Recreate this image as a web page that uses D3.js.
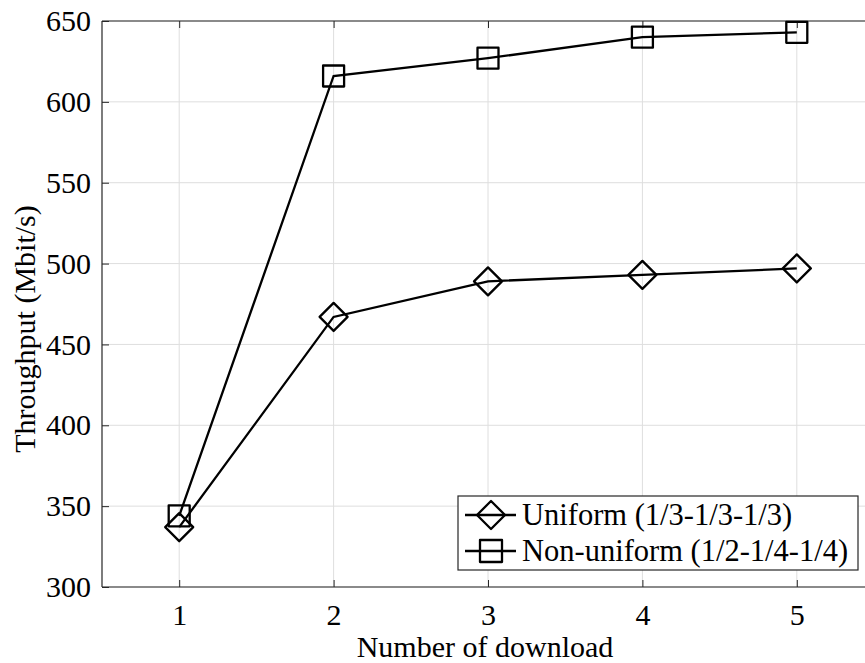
<!DOCTYPE html>
<html><head><meta charset="utf-8">
<script src="https://cdn.jsdelivr.net/npm/d3@7"></script>
<style>body{margin:0;background:#fff;overflow:hidden}svg{display:block}text{font-family:"Liberation Serif","Times New Roman",serif;fill:#000}</style>
</head><body>
<svg id="c" width="865" height="663"></svg>
<script>
const downloads = [1, 2, 3, 4, 5];
const uniform = [337, 467, 489, 493, 497];
const nonUniform = [344, 616, 627, 640, 643];
const xTicks = [1, 2, 3, 4, 5];
const yTicks = [300, 350, 400, 450, 500, 550, 600, 650];
const seriesNames = ["Uniform (1/3-1/3-1/3)", "Non-uniform (1/2-1/4-1/4)"];

const FS = 30;
const svg = d3.select("#c");
const L = 102, R = 874, T = 21, B = 587;
const x = d3.scaleLinear().domain([0.5, 5.5]).range([L, R]);
const y = d3.scaleLinear().domain([300, 650]).range([B, T]);

// grid
svg.append("g").selectAll("line").data(xTicks).join("line")
  .attr("x1", d => x(d)).attr("x2", d => x(d)).attr("y1", T).attr("y2", B)
  .attr("stroke", "#dedede").attr("stroke-width", 1);
svg.append("g").selectAll("line").data(yTicks).join("line")
  .attr("y1", d => y(d)).attr("y2", d => y(d)).attr("x1", L).attr("x2", R)
  .attr("stroke", "#dedede").attr("stroke-width", 1);

// axes
const ax = svg.append("g").attr("transform", `translate(0,${B})`)
  .call(d3.axisBottom(x).tickValues(xTicks).tickSize(-7).tickPadding(17).tickFormat(d3.format("d")));
const ay = svg.append("g").attr("transform", `translate(${L},0)`)
  .call(d3.axisLeft(y).tickValues(yTicks).tickSize(-7).tickPadding(11).tickFormat(d3.format("d")));
const at = svg.append("g").attr("transform", `translate(0,${T})`)
  .call(d3.axisTop(x).tickValues(xTicks).tickSize(-7).tickFormat(""));
[ax, ay, at].forEach(g => {
  g.attr("font-size", FS).attr("font-family", "Liberation Serif");
  g.selectAll("path.domain").attr("stroke", "#262626").attr("stroke-width", 1.2);
  g.selectAll(".tick line").attr("stroke", "#262626").attr("stroke-width", 1);
  g.selectAll(".tick text").attr("font-size", FS).attr("fill", "#000");
});
ax.select("path.domain").attr("d", `M${L},0H${R}`);
ay.select("path.domain").attr("d", `M0,${B}V${T}`);
at.select("path.domain").attr("d", `M${L},0H${R}`);

// labels
svg.append("text").attr("x", 485).attr("y", 657).attr("text-anchor", "middle")
  .attr("font-size", FS).text("Number of download");
svg.append("text").attr("transform", `translate(35,329) rotate(-90)`)
  .attr("text-anchor", "middle").attr("font-size", FS).text("Throughput (Mbit/s)");

const line = d3.line().x((d, i) => x(downloads[i])).y(d => y(d));
const diamond = (cx, cy, r) => `M${cx},${cy - r}L${cx + r},${cy}L${cx},${cy + r}L${cx - r},${cy}Z`;
const square = (cx, cy, r) => `M${cx - r},${cy - r}H${cx + r}V${cy + r}H${cx - r}Z`;

function drawSeries(vals, shape, r) {
  svg.append("path").datum(vals).attr("d", line).attr("fill", "none")
    .attr("stroke", "#000").attr("stroke-width", 2.3);
  svg.append("g").selectAll("path").data(vals).join("path")
    .attr("d", (d, i) => shape(x(downloads[i]), y(d), r))
    .attr("fill", "none").attr("stroke", "#000").attr("stroke-width", 2.3)
    .attr("stroke-linejoin", "round");
}
drawSeries(uniform, diamond, 14);
drawSeries(nonUniform, square, 10.5);

// legend
const lg = svg.append("g");
lg.append("rect").attr("x", 458).attr("y", 496).attr("width", 400).attr("height", 74)
  .attr("fill", "#fff").attr("stroke", "#262626").attr("stroke-width", 1.2);
const rows = [{n: seriesNames[0], s: diamond, r: 14, cy: 515, by: 525}, {n: seriesNames[1], s: square, r: 11, cy: 551, by: 561}];
rows.forEach(rw => {
  lg.append("line").attr("x1", 465).attr("x2", 516).attr("y1", rw.cy).attr("y2", rw.cy)
    .attr("stroke", "#000").attr("stroke-width", 2.3);
  lg.append("path").attr("d", rw.s(491, rw.cy, rw.r)).attr("fill", "none")
    .attr("stroke", "#000").attr("stroke-width", 2.3).attr("stroke-linejoin", "round");
  lg.append("text").attr("x", 522).attr("y", rw.by).attr("font-size", 30.5).text(rw.n);
});
</script>
</body></html>
